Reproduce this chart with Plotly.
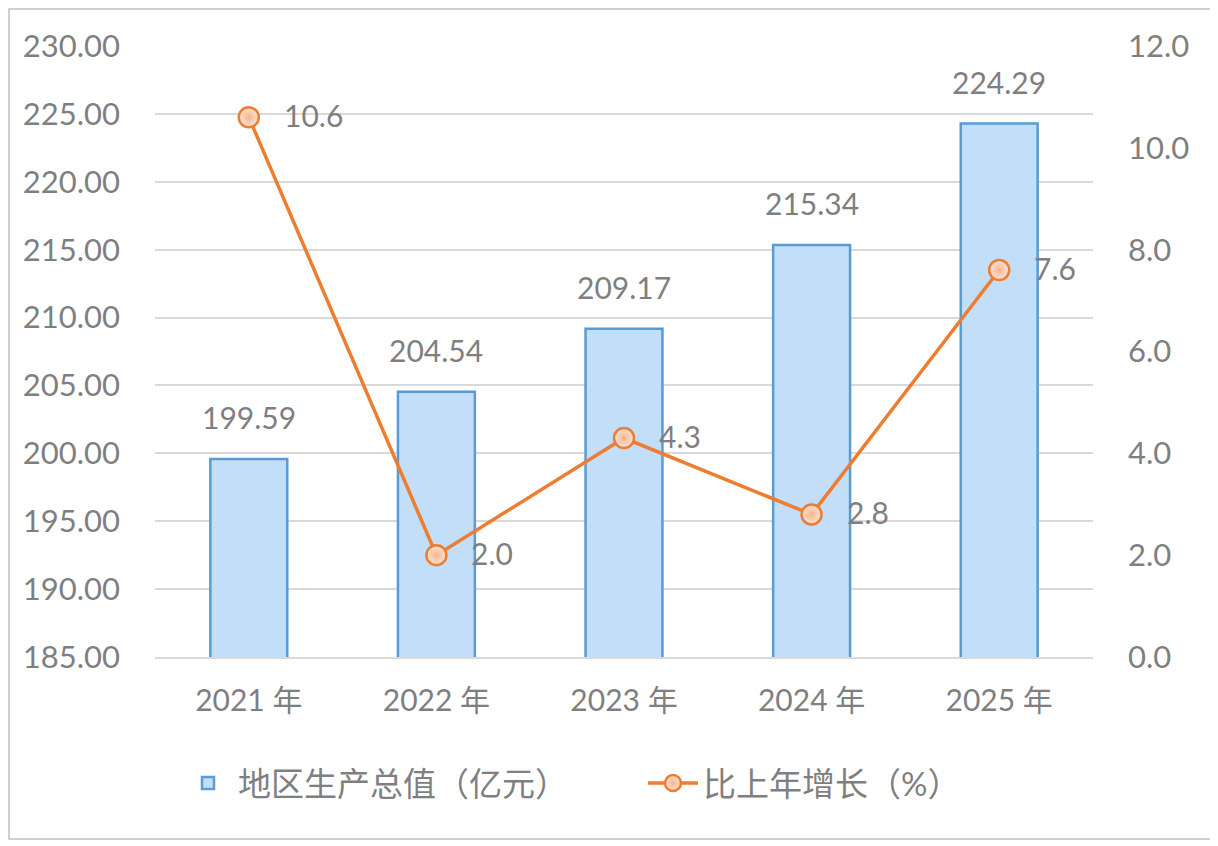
import plotly.graph_objects as go

years = ["2021 年", "2022 年", "2023 年", "2024 年", "2025 年"]
gdp = [199.59, 204.54, 209.17, 215.34, 224.29]
growth = [10.6, 2.0, 4.3, 2.8, 7.6]

gray = "#7f7f7f"
font_family = "Lato, Noto Sans CJK SC, sans-serif"

# figure geometry (plot area 938 x 611)
ml, mt, pw, ph = 147, 38, 938, 611
W, H = 1206, 833

fig = go.Figure()

# bars: GDP on the left axis
fig.add_trace(go.Bar(
    x=years, y=gdp, name="地区生产总值（亿元）",
    width=0.41,
    marker=dict(color="#c2def9", line=dict(color="#5b9bd5", width=2.5)),
))

# line: growth rate on the right axis
fig.add_trace(go.Scatter(
    x=years, y=growth, name="比上年增长（%）", yaxis="y2",
    mode="lines+markers",
    line=dict(color="#ed7d31", width=3.5),
    marker=dict(size=20, color="#fde4d6", symbol="circle",
                gradient=dict(type="radial", color="#f6b48c"),
                line=dict(color="#ed7d31", width=2.5)),
    cliponaxis=False,
))

# value labels
annotations = []
for yr, v in zip(years, gdp):
    annotations.append(dict(x=yr, y=v, xref="x", yref="y", text=f"{v:.2f}",
                            showarrow=False, yshift=42, yanchor="middle",
                            font=dict(size=30, color=gray)))
for yr, v in zip(years, growth):
    annotations.append(dict(x=yr, y=v, xref="x", yref="y2", text=f"{v:.1f}",
                            showarrow=False, xshift=33, xanchor="left", yanchor="middle",
                            yshift=2, font=dict(size=30, color=gray)))

fig.update_layout(
    width=W, height=H,
    margin=dict(l=ml, r=W - ml - pw, t=mt, b=H - mt - ph, autoexpand=False),
    paper_bgcolor="white", plot_bgcolor="white",
    font=dict(family=font_family, size=30, color=gray),
    showlegend=True,
    legend=dict(orientation="h", x=(170 - ml) / pw, xanchor="left", y=-126 / ph, yanchor="middle",
                font=dict(size=33, color=gray), traceorder="normal",
                entrywidth=400, entrywidthmode="pixels", itemwidth=50),
    xaxis=dict(showgrid=False, showline=True, linecolor="#d9d9d9", linewidth=2, ticks="",
               tickfont=dict(size=30, color=gray), ticklabelstandoff=16),
    yaxis=dict(range=[185, 230], dtick=5, tickformat=".2f", gridcolor="#d9d9d9", gridwidth=2,
               zeroline=False, showline=False, tickfont=dict(size=31, color=gray),
               ticklabelstandoff=34),
    yaxis2=dict(range=[0, 12], dtick=2, tickformat=".1f", overlaying="y", side="right",
                showgrid=False, zeroline=False, showline=False,
                tickfont=dict(size=31, color=gray), ticklabelstandoff=34),
    annotations=annotations,
    shapes=[dict(type="rect", xref="paper", yref="paper",
                 x0=(1 - ml) / pw, x1=(W - 2 - ml) / pw,
                 y0=-(H - 2 - mt - ph) / ph, y1=1 + (mt - 1) / ph,
                 line=dict(color="#bfbfbf", width=1.5), fillcolor="rgba(0,0,0,0)", layer="below")],
)

fig.write_html("out.html")
